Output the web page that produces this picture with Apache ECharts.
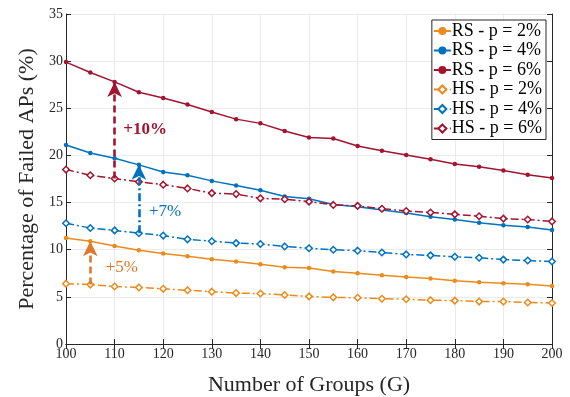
<!DOCTYPE html>
<html>
<head>
<meta charset="utf-8">
<script src="https://cdn.jsdelivr.net/npm/echarts@6/dist/echarts.min.js"></script>
<style>
html, body { margin: 0; padding: 0; background: #fff; }
#chart { width: 570px; height: 397px; }
</style>
</head>
<body>
<div id="chart"></div>
<script>
// groups on the x axis
var groups = [100, 105, 110, 115, 120, 125, 130, 135, 140, 145, 150,
              155, 160, 165, 170, 175, 180, 185, 190, 195, 200];

// percentage of failed APs
var rs2 = [11.25, 10.9, 10.4, 9.95, 9.6, 9.3, 9.0, 8.75, 8.45, 8.15, 8.05,
           7.7, 7.5, 7.3, 7.1, 6.95, 6.7, 6.55, 6.45, 6.35, 6.15];
var rs4 = [21.1, 20.25, 19.7, 19.0, 18.25, 17.9, 17.3, 16.8, 16.3, 15.65, 15.4,
           14.8, 14.55, 14.2, 13.9, 13.5, 13.2, 12.85, 12.6, 12.4, 12.1];
var rs6 = [29.9, 28.8, 27.8, 26.7, 26.1, 25.4, 24.6, 23.85, 23.4, 22.6, 21.9,
           21.8, 21.0, 20.5, 20.05, 19.6, 19.1, 18.8, 18.4, 17.95, 17.6];
var hs2 = [6.4, 6.3, 6.1, 6.0, 5.85, 5.7, 5.55, 5.4, 5.35, 5.2, 5.05,
           4.95, 4.9, 4.8, 4.75, 4.65, 4.6, 4.5, 4.5, 4.4, 4.35];
var hs4 = [12.8, 12.3, 12.05, 11.75, 11.5, 11.1, 10.9, 10.7, 10.6, 10.35, 10.15,
           10.0, 9.9, 9.7, 9.5, 9.4, 9.25, 9.15, 8.95, 8.85, 8.75];
var hs6 = [18.5, 17.9, 17.55, 17.2, 16.9, 16.5, 16.0, 15.9, 15.45, 15.35, 15.1,
           14.75, 14.65, 14.35, 14.1, 13.95, 13.75, 13.55, 13.3, 13.2, 13.0];

var seriesNames = ['RS - p = 2%', 'RS - p = 4%', 'RS - p = 6%',
                   'HS - p = 2%', 'HS - p = 4%', 'HS - p = 6%'];

// gain arrows: [x, from, to, label, label x, label y]
var gain10 = [110, 17.55, 27.8, '+10%', 116.3, 22.7];
var gain7 = [115, 11.75, 19.0, '+7%', 120.4, 14.1];
var gain5 = [105, 6.3, 10.9, '+5%', 111.5, 8.1];

var cOrange = '#EC8A1C', cBlue = '#0072BD', cRed = '#A2142F';
var font = '"Liberation Serif", "DejaVu Serif", serif';
var dashDot = [8, 3, 2, 3];

function pairs(vals){
	var out = [];
	for (var i=0; i<groups.length; i++){
		out.push([groups[i], vals[i]]);
	}
	return out;
}

function arrow(g, color, type){
	return {
		silent: true,
		animation: false,
		symbol: ['none', 'arrow'],
		symbolSize: [11, 15],
		label: {show: false},
		lineStyle: {color: color, width: 2.6, type: type},
		data: [[{coord: [g[0], g[1]]}, {coord: [g[0], g[2]]}]]
	};
}

function gainLabel(g, color, bold){
	return {
		silent: true,
		animation: false,
		symbol: 'circle',
		symbolSize: 1,
		itemStyle: {color: 'rgba(0,0,0,0)'},
		label: {
			show: true, position: 'inside', formatter: g[3],
			color: color, fontFamily: font, fontSize: 17,
			fontWeight: bold ? 'bold' : 'normal'
		},
		data: [{coord: [g[4], g[5]], value: 0}]
	};
}

function rsSeries(name, vals, color){
	return {
		name: name, type: 'line', data: pairs(vals),
		symbol: 'circle', symbolSize: 4.5, showSymbol: true,
		lineStyle: {color: color, width: 1.5},
		itemStyle: {color: color},
		z: 3
	};
}

function hsSeries(name, vals, color, g, dash, bold){
	return {
		name: name, type: 'line', data: pairs(vals),
		symbol: 'diamond', symbolSize: 6.5, showSymbol: true,
		lineStyle: {color: color, width: 1.5, type: dashDot},
		itemStyle: {color: '#fff', borderColor: color, borderWidth: 1.5},
		markLine: arrow(g, color, dash),
		markPoint: gainLabel(g, color, bold),
		z: 3
	};
}

var chart = echarts.init(document.getElementById('chart'), null, {renderer: 'canvas'});

var axisTextColor = '#262626';
var option = {
	animation: false,
	backgroundColor: '#fff',
	grid: {left: 66, right: 18, top: 14, bottom: 53, containLabel: false, outerBoundsMode: 'none'},
	legend: {
		orient: 'vertical', right: 24, top: 20,
		data: seriesNames,
		backgroundColor: '#fff',
		borderColor: '#262626', borderWidth: 1,
		padding: [2, 4, 2, 1],
		itemGap: 1.5, itemWidth: 17, itemHeight: 10,
		textStyle: {fontFamily: font, fontSize: 18, color: '#000', padding: [0, 0, 0, -4]}
	},
	xAxis: [{
		type: 'value', min: 100, max: 200, interval: 10,
		name: 'Number of Groups (G)', nameLocation: 'middle', nameGap: 30,
		nameTextStyle: {fontFamily: font, fontSize: 22, color: axisTextColor},
		axisLine: {show: true, lineStyle: {color: axisTextColor, width: 1}},
		axisTick: {show: true, inside: true, length: 5, lineStyle: {color: axisTextColor}},
		axisLabel: {fontFamily: font, fontSize: 14, color: axisTextColor, margin: 3},
		splitLine: {show: true, lineStyle: {color: '#ebebeb', width: 1}}
	}, {
		type: 'value', min: 100, max: 200, interval: 10, position: 'top',
		axisLine: {show: true, lineStyle: {color: axisTextColor, width: 1}},
		axisTick: {show: true, inside: true, length: 5, lineStyle: {color: axisTextColor}},
		axisLabel: {show: false}, splitLine: {show: false}
	}],
	yAxis: [{
		type: 'value', min: 0, max: 35, interval: 5,
		name: 'Percentage of Failed APs (%)', nameLocation: 'middle', nameGap: 26,
		nameTextStyle: {fontFamily: font, fontSize: 22, color: axisTextColor},
		axisLine: {show: true, lineStyle: {color: axisTextColor, width: 1}},
		axisTick: {show: true, inside: true, length: 5, lineStyle: {color: axisTextColor}},
		axisLabel: {fontFamily: font, fontSize: 14, color: axisTextColor, margin: 3},
		splitLine: {show: true, lineStyle: {color: '#ebebeb', width: 1}}
	}, {
		type: 'value', min: 0, max: 35, interval: 5, position: 'right',
		axisLine: {show: true, lineStyle: {color: axisTextColor, width: 1}},
		axisTick: {show: true, inside: true, length: 5, lineStyle: {color: axisTextColor}},
		axisLabel: {show: false}, splitLine: {show: false}
	}],
	series: [
		rsSeries(seriesNames[0], rs2, cOrange),
		rsSeries(seriesNames[1], rs4, cBlue),
		rsSeries(seriesNames[2], rs6, cRed),
		hsSeries(seriesNames[3], hs2, cOrange, gain5, [7, 4], false),
		hsSeries(seriesNames[4], hs4, cBlue, gain7, [8, 3, 2, 3], false),
		hsSeries(seriesNames[5], hs6, cRed, gain10, [7, 4], true)
	]
};
// the +5% arrow is a darker orange than its series
option.series[3].markLine.lineStyle.color = '#E0782A';
option.series[3].markPoint.label.color = '#E0782A';
chart.setOption(option);
</script>
</body>
</html>
